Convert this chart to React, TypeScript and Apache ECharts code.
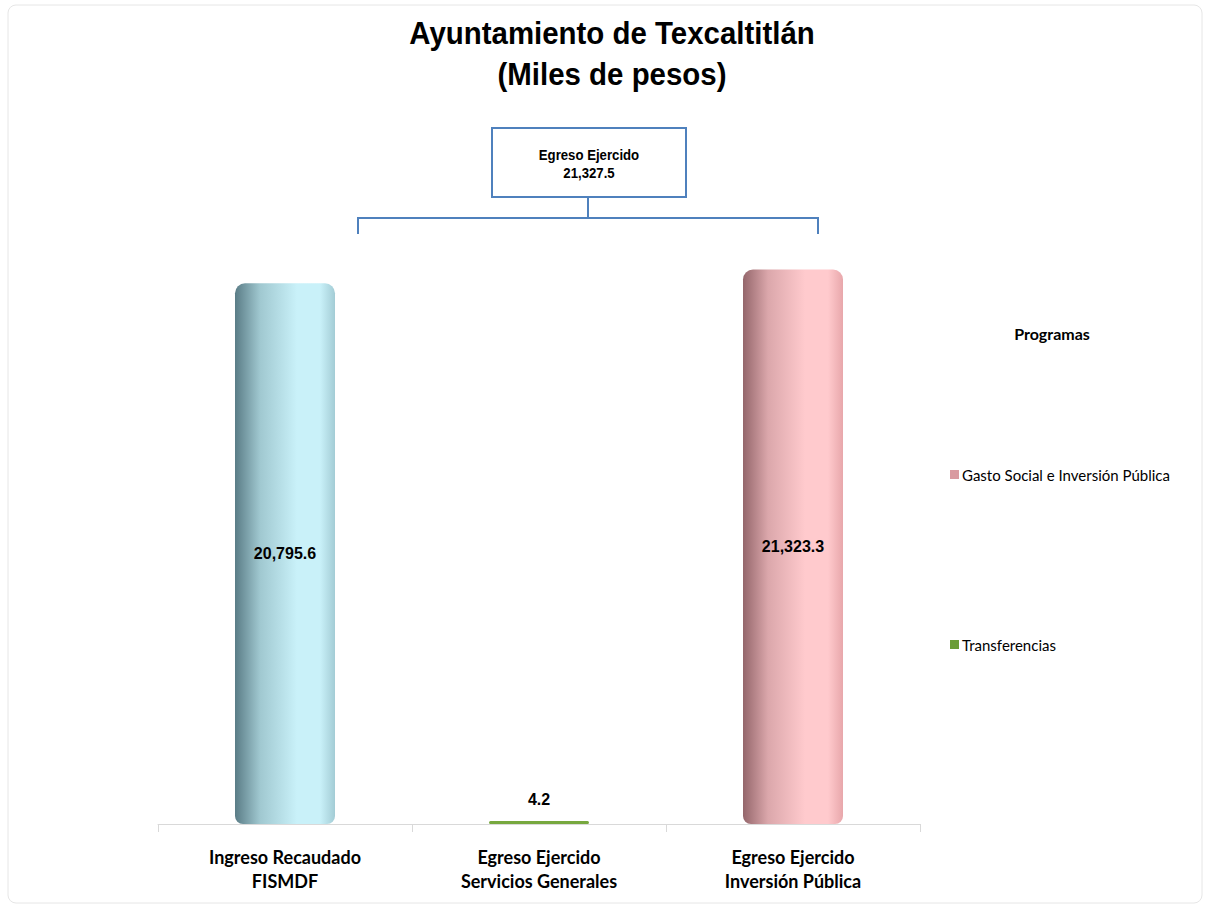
import React, { useEffect, useRef } from "react";
import * as echarts from "echarts";

const categories = [
  "Ingreso Recaudado\nFISMDF",
  "Egreso Ejercido\nServicios Generales",
  "Egreso Ejercido\nInversión Pública",
];
const ingresoValues = [20795.6, null, null];
const transferenciasValues = [null, 4.2, null];
const gastoSocialValues = [null, null, 21323.3];
const totalEgresoLabel = "Egreso Ejercido\n21,327.5";
const titleText = "Ayuntamiento de Texcaltitlán\n(Miles de pesos)";
const legendTitle = "Programas";

const NARROW = "'Liberation Sans Narrow', 'Liberation Sans', Arial, sans-serif";
const CAL = "Lato, 'Open Sans', sans-serif";

function cyl(dark: string, mid: string, light: string, edge: string) {
  return new echarts.graphic.LinearGradient(0, 0, 1, 0, [
    { offset: 0, color: dark },
    { offset: 0.25, color: mid },
    { offset: 0.62, color: light },
    { offset: 0.85, color: light },
    { offset: 1, color: edge },
  ]);
}

export default function App() {
  const ref = useRef<HTMLDivElement>(null);
  useEffect(() => {
    if (!ref.current) return;
    const chart = echarts.init(ref.current, null, { renderer: "svg" });
    const fmt = (p: any) =>
      Number(p.value).toLocaleString("en-US", { minimumFractionDigits: 1, maximumFractionDigits: 1 });
    const valueLabel = {
      show: true,
      position: "inside",
      formatter: fmt,
      fontFamily: NARROW,
      fontWeight: "bold",
      fontSize: 16,
      color: "#000",
    };
    chart.setOption({
      animation: false,
      backgroundColor: "#ffffff",
      title: [
        {
          text: legendTitle,
          left: 1047,
          top: 320,
          textAlign: "center",
          textStyle: { fontFamily: CAL, fontWeight: "bold", fontSize: 16, color: "#000" },
        },
      ],
      legend: {
        orient: "vertical",
        left: 945,
        top: 462,
        itemGap: 155,
        itemWidth: 9,
        itemHeight: 9,
        icon: "rect",
        textStyle: { fontFamily: CAL, fontSize: 15, color: "#000", padding: [0, 0, 0, -2] },
        data: [
          { name: "Gasto Social e Inversión Pública", itemStyle: { color: "#d99aa0" } },
          { name: "Transferencias", itemStyle: { color: "#6a9d35" } },
        ],
      },
      grid: { left: 158, right: 286, top: 174, bottom: 81, containLabel: false },
      xAxis: {
        type: "category",
        data: categories,
        axisLine: { lineStyle: { color: "#d9d9d9", width: 1 } },
        axisTick: { show: true, length: 8, lineStyle: { color: "#d9d9d9" } },
        axisLabel: {
          margin: 21,
          fontFamily: CAL,
          fontWeight: "bold",
          fontSize: 18,
          lineHeight: 24,
          color: "#000",
          interval: 0,
        },
      },
      yAxis: { type: "value", min: 0, max: 25000, show: false, splitLine: { show: false } },
      series: [
        {
          name: "Ingreso",
          type: "bar",
          stack: "a",
          barWidth: 100,
          data: ingresoValues,
          itemStyle: {
            color: cyl("#5a7c86", "#a0c8d0", "#c9f1f9", "#a3ccd5"),
            borderRadius: [10, 10, 8, 8],
          },
          label: valueLabel,
        },
        {
          name: "Transferencias",
          type: "bar",
          stack: "a",
          barWidth: 100,
          barMinHeight: 3,
          data: transferenciasValues,
          itemStyle: { color: "#77a83e", borderRadius: 2 },
          label: { ...valueLabel, position: "top", distance: 14 },
        },
        {
          name: "Gasto Social e Inversión Pública",
          type: "bar",
          stack: "a",
          barWidth: 100,
          data: gastoSocialValues,
          itemStyle: {
            color: cyl("#94666b", "#dba7ab", "#ffcacd", "#e8a7ab"),
            borderRadius: [10, 10, 8, 8],
          },
          label: valueLabel,
        },
      ],
      graphic: [
        {
          type: "rect",
          shape: { x: 8, y: 5, width: 1194, height: 898, r: 8 },
          style: { fill: "none", stroke: "#e6e6e6", lineWidth: 1 },
          silent: true,
        },
        {
          type: "text",
          x: 612,
          y: 54,
          scaleX: 0.92,
          style: {
            text: titleText,
            fontFamily: NARROW,
            fontWeight: "bold",
            fontSize: 32,
            lineHeight: 41,
            fill: "#000",
            align: "center",
            verticalAlign: "middle",
          },
        },
        {
          type: "rect",
          shape: { x: 492, y: 128, width: 194, height: 69 },
          style: { fill: "#fff", stroke: "#4f81bd", lineWidth: 2 },
        },
        {
          type: "text",
          x: 589,
          y: 164,
          scaleX: 0.88,
          style: {
            text: totalEgresoLabel,
            fontFamily: NARROW,
            fontWeight: "bold",
            fontSize: 15,
            lineHeight: 18,
            fill: "#000",
            align: "center",
            verticalAlign: "middle",
          },
        },
        {
          type: "polyline",
          shape: { points: [[358, 234], [358, 218], [818, 218], [818, 234]] },
          style: { stroke: "#4f81bd", lineWidth: 2, fill: "none" },
        },
        {
          type: "line",
          shape: { x1: 588, y1: 197, x2: 588, y2: 218 },
          style: { stroke: "#4f81bd", lineWidth: 2 },
        },
      ],
    });
    return () => chart.dispose();
  }, []);
  return (
    <div
      ref={ref}
      style={{ position: "absolute", left: 0, top: 0, width: 1206, height: 905 }}
    />
  );
}
